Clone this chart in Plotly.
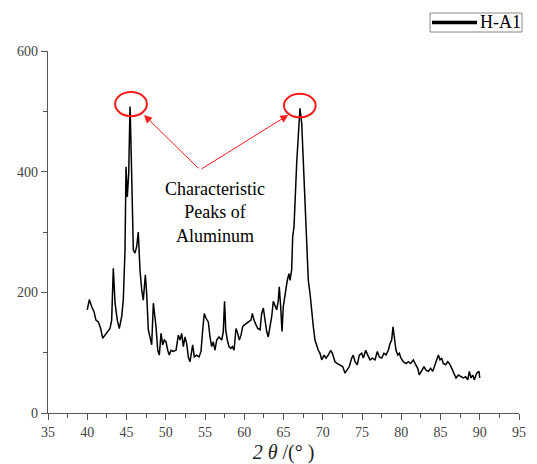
import plotly.graph_objects as go

series_name = "H-A1"

two_theta = [
    40.00, 40.26, 40.57, 40.86, 41.11, 41.41, 41.71, 41.97, 42.26, 42.55, 42.90, 43.11,
    43.32, 43.54, 43.83, 44.08, 44.39, 44.59, 44.81, 44.94, 45.10, 45.28, 45.45, 45.57,
    45.70, 45.87, 46.08, 46.30, 46.50, 46.72, 46.94, 47.14, 47.40, 47.57, 47.78, 47.99,
    48.21, 48.42, 48.76, 48.98, 49.18, 49.40, 49.61, 49.82, 50.03, 50.25, 50.45, 50.67,
    50.96, 51.31, 51.60, 51.82, 52.03, 52.24, 52.45, 52.67, 52.87, 53.09, 53.31, 53.43,
    53.64, 53.94, 54.24, 54.49, 54.71, 54.91, 55.13, 55.42, 55.64, 55.85, 56.06, 56.27,
    56.49, 56.78, 57.13, 57.33, 57.49, 57.64, 57.84, 58.06, 58.28, 58.48, 58.70, 58.95,
    59.17, 59.37, 59.59, 59.80, 60.01, 60.31, 60.61, 60.86, 61.03, 61.24, 61.50, 61.72,
    62.01, 62.22, 62.43, 62.64, 62.86, 63.06, 63.28, 63.50, 63.70, 63.92, 64.13, 64.34,
    64.46, 64.64, 64.81, 64.97, 65.19, 65.48, 65.70, 65.83, 66.04, 66.17, 66.34, 66.46,
    66.68, 66.88, 67.10, 67.32, 67.52, 67.74, 67.96, 68.16, 68.38, 68.59, 68.80, 69.01,
    69.23, 69.43, 69.65, 69.87, 70.16, 70.41, 70.71, 71.01, 71.22, 71.56, 71.86, 72.20,
    72.54, 72.84, 73.05, 73.38, 73.69, 73.89, 74.11, 74.40, 74.66, 74.96, 75.17, 75.47,
    75.73, 76.02, 76.31, 76.66, 76.95, 77.20, 77.51, 77.80, 78.06, 78.35, 78.57, 78.78,
    78.95, 79.12, 79.33, 79.55, 79.75, 79.97, 80.26, 80.61, 80.90, 81.20, 81.54, 81.84,
    82.10, 82.30, 82.61, 82.90, 83.15, 83.45, 83.75, 84.01, 84.30, 84.52, 84.73, 84.94,
    85.15, 85.36, 85.66, 85.92, 86.13, 86.43, 86.72, 86.98, 87.27, 87.58, 87.91, 88.21,
    88.47, 88.67, 88.89, 89.10, 89.31, 89.61, 89.90, 90.00,
]

intensity = [
    171, 188, 176, 168, 154, 151, 140, 124, 129, 135, 140, 154,
    240, 182, 154, 140, 160, 187, 270, 408, 358, 397, 508, 447,
    370, 270, 265, 276, 300, 237, 204, 187, 229, 198, 138, 124,
    113, 182, 143, 104, 96, 132, 113, 121, 118, 104, 96, 104,
    102, 104, 129, 121, 132, 110, 126, 115, 93, 85, 104, 113,
    93, 96, 93, 102, 138, 165, 157, 151, 126, 110, 118, 104,
    121, 126, 121, 135, 185, 138, 121, 110, 107, 110, 104, 140,
    132, 121, 129, 143, 146, 149, 151, 154, 165, 154, 146, 140,
    138, 165, 174, 154, 135, 126, 140, 160, 185, 176, 171, 187,
    209, 176, 135, 176, 198, 220, 231, 220, 237, 292, 309, 358,
    414, 458, 505, 480, 414, 342, 276, 220, 198, 165, 143, 121,
    110, 104, 99, 88, 96, 91, 96, 104, 99, 85, 82, 80,
    77, 66, 71, 77, 91, 96, 85, 80, 96, 99, 91, 104,
    96, 88, 91, 88, 102, 93, 91, 99, 96, 104, 115, 121,
    143, 121, 104, 96, 99, 91, 85, 82, 85, 82, 88, 80,
    74, 63, 71, 77, 71, 69, 74, 69, 80, 88, 96, 88,
    91, 82, 80, 85, 82, 74, 66, 58, 63, 60, 58, 60,
    55, 69, 58, 63, 55, 66, 69, 58,
]

x_ticks = [35, 40, 45, 50, 55, 60, 65, 70, 75, 80, 85, 90, 95]
y_ticks = [0, 200, 400, 600]

annotation_text = "Characteristic<br>Peaks of<br>Aluminum"

SERIF = "Liberation Serif"
RED = "#ff1a1a"

fig = go.Figure()
fig.add_trace(go.Scatter(
    x=two_theta, y=intensity, mode="lines", name=series_name,
    line=dict(color="black", width=1.5),
    showlegend=False,
))

axis_common = dict(
    showline=True, linecolor="#555555", linewidth=1.3,
    ticks="outside", tickcolor="#555555", tickwidth=1.2, ticklen=6,
    showgrid=False, zeroline=False, mirror=False, automargin=False,
    tickfont=dict(family=SERIF, size=14, color="#444444"),
)

fig.update_xaxes(
    range=[35, 95], tickvals=x_ticks, ticktext=[str(v) for v in x_ticks],
    minor=dict(ticks="outside", ticklen=4, tickcolor="#555555", dtick=2.5, tick0=35),
    title=dict(text="<i>2 θ</i> /(° )", font=dict(family=SERIF, size=20, color="#222222"), standoff=9),
    **axis_common,
)
fig.update_yaxes(
    range=[0, 600], tickvals=y_ticks, ticktext=[str(v) for v in y_ticks],
    minor=dict(ticks="outside", ticklen=4, tickcolor="#555555", dtick=100, tick0=0),
    **axis_common,
)

# plot area in px: x 48..519, y 51..413
def px_x(p):
    return (p - 48) / 471.0

def px_y(p):
    return (413 - p) / 362.0

shapes = [
    dict(type="circle", xref="x", yref="y", x0=43.55, x1=47.6, y0=492, y1=532,
         line=dict(color=RED, width=2)),
    dict(type="circle", xref="x", yref="y", x0=65.06, x1=69.1, y0=490, y1=529,
         line=dict(color=RED, width=2)),
    # legend box and sample line
    dict(type="rect", xref="paper", yref="paper", x0=px_x(430), x1=px_x(522),
         y0=px_y(32), y1=px_y(13), line=dict(color="#888888", width=1), fillcolor="white"),
    dict(type="line", xref="paper", yref="paper", x0=px_x(432), x1=px_x(477),
         y0=px_y(22.5), y1=px_y(22.5), line=dict(color="black", width=3.5)),
]

annotations = [
    dict(x=47.23, y=494, ax=54.36, ay=403, xref="x", yref="y", axref="x", ayref="y",
         text="", showarrow=True, arrowhead=2, arrowsize=1.6, arrowwidth=1, arrowcolor=RED),
    dict(x=65.61, y=494, ax=54.36, ay=403, xref="x", yref="y", axref="x", ayref="y",
         text="", showarrow=True, arrowhead=2, arrowsize=1.6, arrowwidth=1, arrowcolor=RED),
    dict(x=56.27, y=333, xref="x", yref="y", text=annotation_text, showarrow=False,
         font=dict(family=SERIF, size=18, color="black"), align="center"),
    dict(x=px_x(478), y=px_y(22.5), xref="paper", yref="paper", text=series_name,
         showarrow=False, xanchor="left", yanchor="middle",
         font=dict(family=SERIF, size=18, color="black")),
]

fig.update_layout(
    width=537, height=464,
    margin=dict(l=48, r=18, t=51, b=51),
    paper_bgcolor="white", plot_bgcolor="white",
    shapes=shapes, annotations=annotations,
    showlegend=False,
)

fig.write_html("out.html")
